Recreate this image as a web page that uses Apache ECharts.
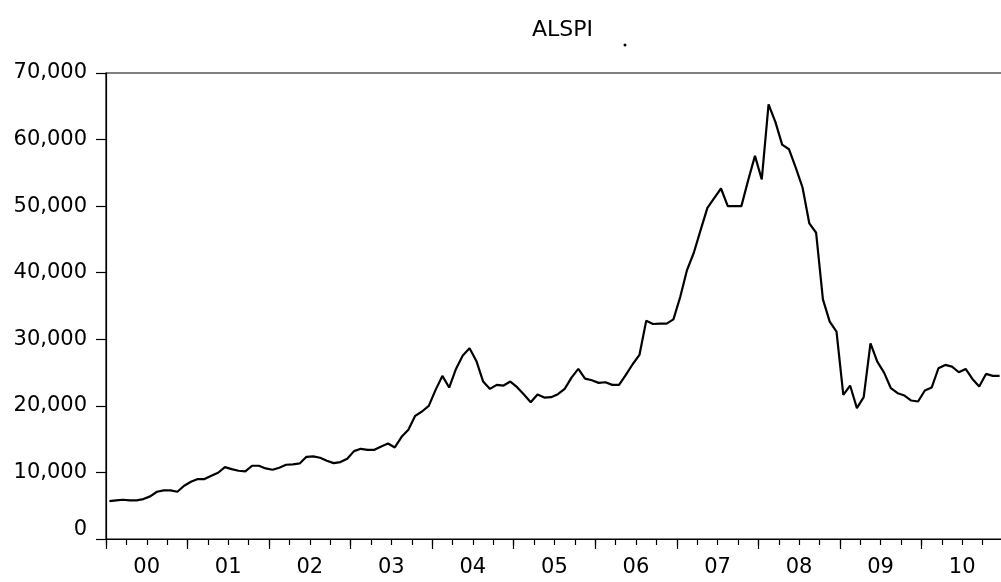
<!DOCTYPE html>
<html>
<head>
    <meta charset="UTF-8">
    <title>ALSPI</title>
    <style>
        html, body { margin: 0; padding: 0; background: #fff; }
        #chart { width: 1001px; height: 582px; }
    </style>
</head>
<body>
<div id="chart"></div>

<script src="https://cdn.jsdelivr.net/npm/echarts@6/dist/echarts.min.js"></script>
<script type="text/javascript">
    // year tick labels (two digits, as on the original)
    var years = ['00', '01', '02', '03', '04', '05', '06', '07', '08', '09', '10'];
    var monthNames = ['01', '02', '03', '04', '05', '06', '07', '08', '09', '10', '11', '12'];

    // monthly ALSPI values, one array per year
    var v2000 = [5700, 5800, 5900, 5800, 5800, 6000, 6400, 7100, 7300, 7300, 7100, 8000];
    var v2001 = [8600, 9000, 9000, 9500, 9950, 10800, 10500, 10250, 10150, 11000, 11000, 10600];
    var v2002 = [10400, 10700, 11150, 11200, 11350, 12350, 12400, 12200, 11750, 11400, 11550, 12050];
    var v2003 = [13200, 13550, 13400, 13400, 13900, 14350, 13750, 15350, 16400, 18500, 19150, 20000];
    var v2004 = [22400, 24500, 22750, 25550, 27550, 28650, 26750, 23650, 22550, 23150, 23050, 23650];
    var v2005 = [22800, 21700, 20550, 21700, 21250, 21300, 21750, 22550, 24250, 25550, 24100, 23850];
    var v2006 = [23450, 23550, 23150, 23150, 24650, 26250, 27650, 32800, 32300, 32350, 32350, 33000];
    var v2007 = [36350, 40400, 43000, 46400, 49750, 51200, 52650, 50000, 50000, 50000, 53900, 57550];
    var v2008 = [54000, 65300, 62650, 59250, 58550, 55800, 52800, 47400, 46000, 36000, 32650, 31150];
    var v2009 = [21650, 23050, 19650, 21300, 29400, 26650, 25000, 22650, 21900, 21550, 20800, 20650];
    var v2010 = [22300, 22750, 25650, 26150, 25900, 25050, 25550, 24050, 22900, 24800, 24500, 24500];

    var alspi = [].concat(v2000, v2001, v2002, v2003, v2004, v2005,
        v2006, v2007, v2008, v2009, v2010);

    // month categories 2000M01 .. 2010M12
    var months = [];
    for (var y = 0; y < years.length; y++) {
        for (var m = 0; m < monthNames.length; m++) {
            months.push('20' + years[y] + 'M' + monthNames[m]);
        }
    }

    var FONT = 'DejaVu Sans';

    function thousands(v) {
        return String(v).replace(/\B(?=(\d{3})+(?!\d))/g, ',');
    }

    var myChart = echarts.init(document.getElementById('chart'));

    var option = {
        animation: false,
        backgroundColor: '#fff',
        title: {
            text: 'ALSPI',
            left: 527,
            top: 14,
            textStyle: { fontFamily: FONT, fontSize: 22, fontWeight: 'normal', color: '#000' }
        },
        grid: {
            left: 106,
            top: 73,
            width: 897,
            height: 466,
            show: true,
            borderColor: '#000',
            borderWidth: 1.2,
            outerBoundsMode: 'none'
        },
        xAxis: [
            {   // quarter ticks + year labels
                type: 'category',
                data: months,
                boundaryGap: true,
                axisLine: { lineStyle: { color: '#000', width: 1.2 } },
                axisTick: {
                    show: true,
                    interval: 2,
                    length: 6,
                    lineStyle: { color: '#000', width: 1.2 }
                },
                axisLabel: {
                    interval: function (i) { return i % 12 === 6; },
                    formatter: function (val) { return val.substr(2, 2); },
                    fontFamily: FONT,
                    fontSize: 21,
                    color: '#000',
                    margin: 18,
                    padding: [0, 7, 0, 0]
                },
                splitLine: { show: false }
            },
            {   // longer ticks at the start of each year
                type: 'category',
                data: months,
                boundaryGap: true,
                position: 'bottom',
                axisLine: { show: false },
                axisTick: {
                    show: true,
                    interval: 11,
                    length: 10,
                    lineStyle: { color: '#000', width: 1.2 }
                },
                axisLabel: { show: false },
                splitLine: { show: false }
            }
        ],
        yAxis: {
            type: 'value',
            min: 0,
            max: 70000,
            interval: 10000,
            axisLine: { show: true, lineStyle: { color: '#000', width: 1.2 } },
            axisTick: { show: true, length: 10, lineStyle: { color: '#000', width: 1.2 } },
            axisLabel: {
                margin: 19,
                fontFamily: FONT,
                fontSize: 21,
                color: '#000',
                formatter: function (v) {
                    return v === 0 ? '{z|0}' : thousands(v);
                },
                rich: {
                    z: { fontFamily: FONT, fontSize: 21, color: '#000', padding: [0, 0, 18, 0] }
                }
            },
            splitLine: { show: false }
        },
        graphic: [
            { type: 'circle', shape: { cx: 625, cy: 45, r: 1.5 }, style: { fill: '#000' } }
        ],
        series: [
            {
                name: 'ALSPI',
                type: 'line',
                xAxisIndex: 0,
                data: alspi,
                symbol: 'none',
                lineStyle: { color: '#000', width: 2.2 }
            }
        ]
    };
    myChart.setOption(option);
</script>
</body>
</html>
